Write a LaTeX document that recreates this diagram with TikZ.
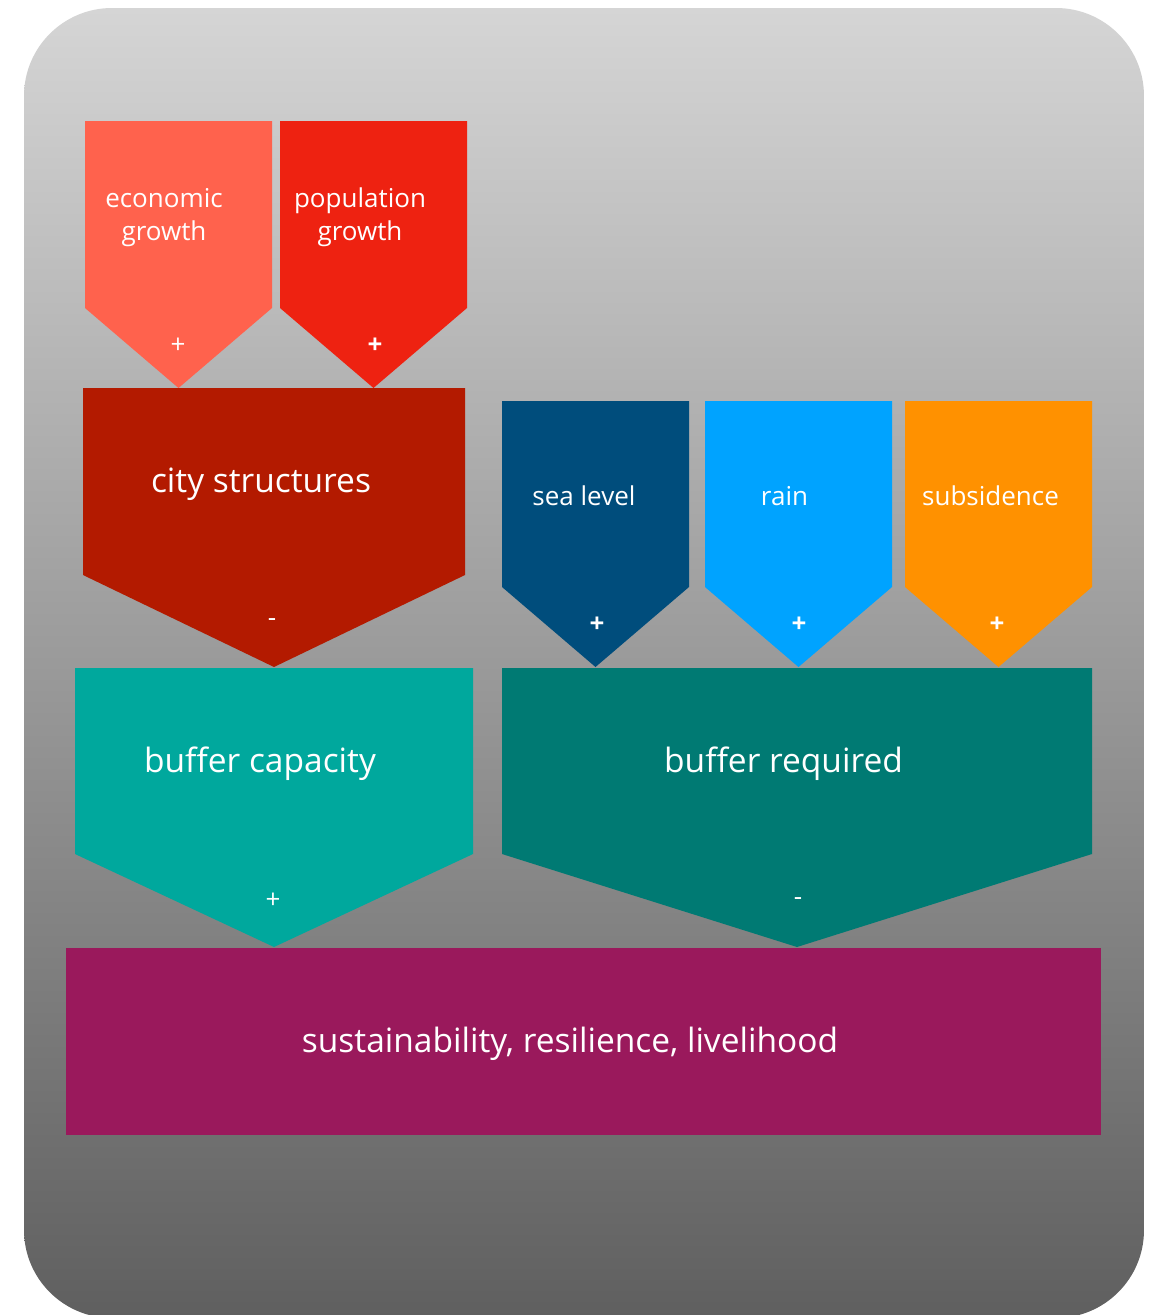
\documentclass[tikz,border=0pt]{standalone}
\usepackage{fontspec}
\setmainfont{Open Sans}

\definecolor{bgtop}{HTML}{D5D5D5}
\definecolor{bgbot}{HTML}{5F5F5F}
\definecolor{econc}{HTML}{FF624D}
\definecolor{popc}{HTML}{EE2211}
\definecolor{cityc}{HTML}{B31A00}
\definecolor{seac}{HTML}{004D7C}
\definecolor{rainc}{HTML}{00A3FF}
\definecolor{subsc}{HTML}{FF9100}
\definecolor{bcapc}{HTML}{00A89D}
\definecolor{breqc}{HTML}{007A73}
\definecolor{outc}{HTML}{9A195C}

% downward pointing banner: colour, left x, right x, top y, shoulder y, tip x, tip y
\newcommand\arrowbanner[7]{%
  \fill[#1] (#2,#4) -- (#3,#4) -- (#3,#5) -- (#6,#7) -- (#2,#5) -- cycle;}

\begin{document}
\begin{tikzpicture}[x=1pt,y=-1pt,
  lbl/.style={text=white, inner sep=0pt, anchor=base, font=\fontsize{26}{33}\selectfont},
  biglbl/.style={text=white, inner sep=0pt, anchor=base, font=\fontsize{33.5}{40}\selectfont},
  sign/.style={text=white, inner sep=0pt, font=\fontsize{26}{30}\selectfont},
  boldsign/.style={sign, font=\fontsize{26}{30}\selectfont\bfseries},
]
\useasboundingbox (0,0) rectangle (1149,1315);
\clip (0,0) rectangle (1149,1315);

% panel
\shade[top color=bgtop, bottom color=bgbot, rounded corners=88pt]
  (24,8) rectangle (1144,1318);

% drivers of city structures
\arrowbanner{econc}{85}{272}{121}{308}{178.5}{388}
\arrowbanner{popc}{280}{467}{121}{308}{373.5}{388}
\arrowbanner{cityc}{83}{465}{388}{575}{274}{667}

% climate drivers
\arrowbanner{seac}{502}{689}{401}{587}{595.5}{667}
\arrowbanner{rainc}{705}{892}{401}{587}{798.5}{667}
\arrowbanner{subsc}{905}{1092}{401}{587}{998.5}{667}

% buffers
\arrowbanner{bcapc}{75}{473}{668}{854}{274}{947}
\arrowbanner{breqc}{502}{1092}{668}{854}{797}{947}

% outcome
\fill[outc] (66,948) rectangle (1101,1135);

% labels (two-line labels sit on the baseline of their last line)
\node[lbl, align=center] (econ) at (164,240) {economic\\growth};
\node[lbl, align=center] (pop) at (360,240) {population\\growth};
\node[biglbl] (city) at (261,492) {city structures};
\node[lbl] (sea) at (584,505) {sea level};
\node[lbl] (rain) at (784.5,505) {rain};
\node[lbl] (subs) at (990.5,505) {subsidence};
\node[biglbl] (bcap) at (260,772) {buffer capacity};
\node[biglbl] (breq) at (783.5,772) {buffer required};
\node[biglbl] (outcome) at (570,1052) {sustainability, resilience, livelihood};

% signs of influence
\node[sign] (econsign) at (178,346) {+};
\node[boldsign] (popsign) at (375,346) {+};
\node[sign] (citysign) at (272,623) {-};
\node[boldsign] (seasign) at (597,625) {+};
\node[boldsign] (rainsign) at (799,625) {+};
\node[boldsign] (subssign) at (997,625) {+};
\node[sign] (bcapsign) at (273,901) {+};
\node[sign] (breqsign) at (798,902) {-};
\end{tikzpicture}
\end{document}
